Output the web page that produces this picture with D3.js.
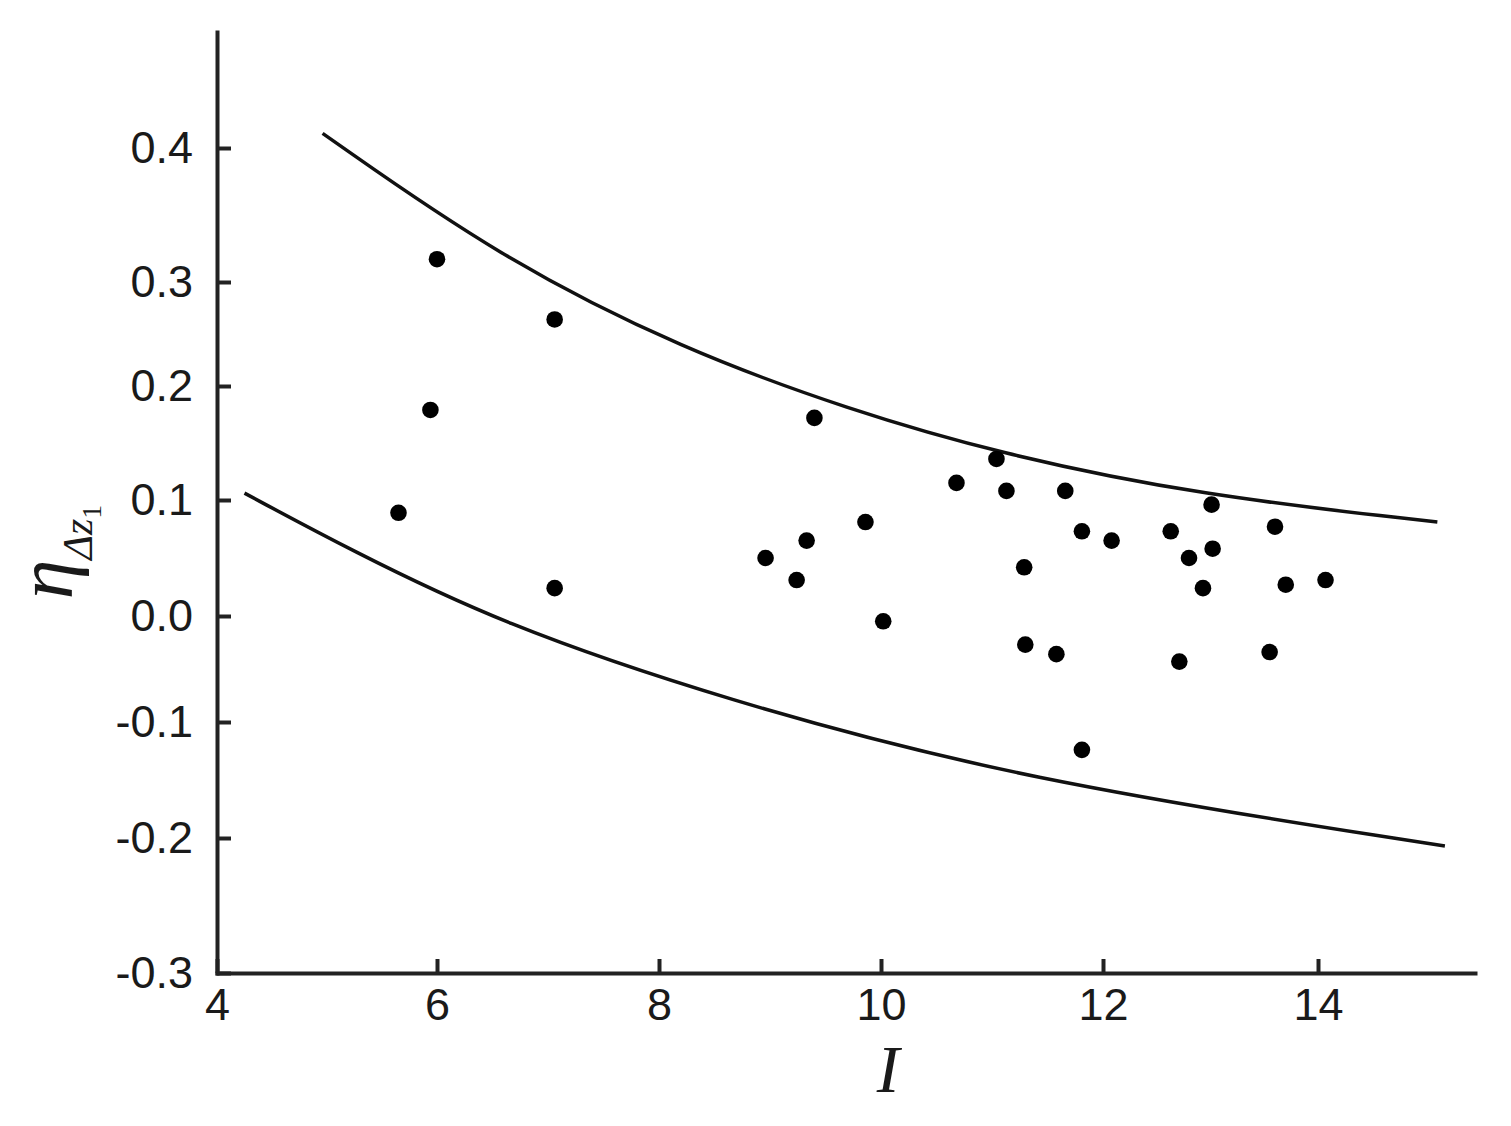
<!DOCTYPE html>
<html>
<head>
<meta charset="utf-8">
<script src="https://cdn.jsdelivr.net/npm/d3@7"></script>
<style>
    body { margin: 0; background: #fff; }
    .axis text { font-family: "Liberation Sans", Arial, sans-serif; font-size: 45px; fill: #1a1a1a; }
    .axis path, .axis line { stroke: #222; stroke-width: 4px; }
</style>
</head>
<body>
<script>
// tick labels
var xTicks = [4, 6, 8, 10, 12, 14];
var yTicks = [-0.3, -0.2, -0.1, 0.0, 0.1, 0.2, 0.3, 0.4];

// measured points (I, eta)
var pointI = [5.65, 5.94, 6.00, 7.06, 7.06, 8.96, 9.24, 9.33, 9.40, 9.86, 10.02, 10.68, 11.04, 11.13, 11.29, 11.30,
    11.58, 11.66, 11.81, 11.81, 12.08, 12.63, 12.71, 12.80, 12.93, 13.01, 13.02, 13.55, 13.60, 13.70, 14.07];
var pointEta = [0.089, 0.179, 0.317, 0.264, 0.024, 0.050, 0.031, 0.065, 0.172, 0.081, -0.005, 0.115, 0.136, 0.108, 0.042, -0.027,
    -0.036, 0.108, 0.073, -0.124, 0.065, 0.073, -0.043, 0.050, 0.024, 0.096, 0.058, -0.034, 0.077, 0.027, 0.031];

// upper and lower bound curves
var upperI = [4.96, 6.57, 8.22, 9.72, 11.05, 12.90, 15.11];
var upperEta = [0.411, 0.318, 0.235, 0.179, 0.141, 0.104, 0.081];
var lowerI = [4.25, 5.21, 6.57, 8.55, 11.25, 15.18];
var lowerEta = [0.106, 0.057, -0.007, -0.078, -0.150, -0.206];

document.addEventListener('DOMContentLoaded', function() {
    var svg = d3.select("body")
        .append("svg")
        .attr("width", 1511)
        .attr("height", 1126)

    // the scanned figure is slightly uneven, so map each tick to where it sits
    var x = d3.scaleLinear()
        .domain([4, 6, 8, 10, 12, 14, 15.46])
        .range([217, 437, 659, 881, 1103, 1318, 1475])
    var y = d3.scaleLinear()
        .domain([-0.3, -0.2, -0.1, 0, 0.1, 0.2, 0.3, 0.4, 0.487])
        .range([973, 838, 722, 616, 500, 386, 282, 148, 32])

    var line = d3.line()
        .x(function(d) { return x(d[0]) })
        .y(function(d) { return y(d[1]) })
        .curve(d3.curveBasis)

    var upper = upperI.map(function(v, i) { return [v, upperEta[i]] })
    var lower = lowerI.map(function(v, i) { return [v, lowerEta[i]] })

    svg.selectAll("path.bound")
        .data([upper, lower])
        .enter()
        .append("path")
        .attr("class", "bound")
        .attr("d", line)
        .attr("fill", "none")
        .attr("stroke", "#111")
        .attr("stroke-width", 3.5)

    svg.selectAll("circle")
        .data(pointI)
        .enter()
        .append("circle")
        .attr("cx", function(d) { return x(d) })
        .attr("cy", function(d, i) { return y(pointEta[i]) })
        .attr("r", 8.3)
        .attr("fill", "#000")

    svg.append("g")
        .attr("class", "axis")
        .attr("transform", "translate(0,973)")
        .call(d3.axisBottom(x).tickValues(xTicks).tickSizeInner(-14).tickSizeOuter(0).tickPadding(15)
            .tickFormat(function(d) { return d }))

    svg.append("g")
        .attr("class", "axis")
        .attr("transform", "translate(217,0)")
        .call(d3.axisLeft(y).tickValues(yTicks).tickSizeInner(-14).tickSizeOuter(0).tickPadding(24)
            .tickFormat(function(d) { return d.toFixed(1) }))

    svg.selectAll(".axis path").attr("stroke-linecap", "square")

    // axis titles
    svg.append("text")
        .attr("x", 888)
        .attr("y", 1092)
        .attr("text-anchor", "middle")
        .style("font-family", "'Liberation Serif', 'Times New Roman', serif")
        .style("font-style", "italic")
        .style("font-size", "68px")
        .attr("fill", "#1a1a1a")
        .text("I")

    var ylab = svg.append("text")
        .attr("transform", "translate(72,552) rotate(-90)")
        .attr("text-anchor", "middle")
        .style("font-family", "'Liberation Serif', 'Times New Roman', serif")
        .style("font-style", "italic")
        .attr("fill", "#1a1a1a")
    ylab.append("tspan").style("font-size", "80px").text("η")
    ylab.append("tspan").attr("dy", 20).style("font-size", "42px").text("Δz")
    ylab.append("tspan").attr("dy", 9).style("font-size", "28px").style("font-style", "normal").text("1")
})
</script>
</body>
</html>
